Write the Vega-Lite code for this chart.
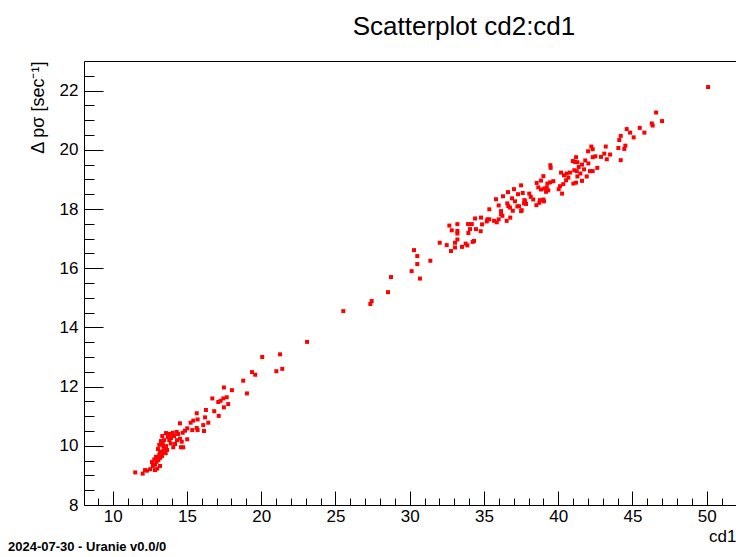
{
  "$schema": "https://vega.github.io/schema/vega-lite/v6.json",
  "width": 652,
  "height": 444,
  "autosize": {"type": "none"},
  "padding": {"left": 84, "top": 61, "right": 0, "bottom": 52},
  "background": "white",
  "config": {
    "view": {"stroke": "black", "strokeWidth": 1},
    "font": "Liberation Sans",
    "axis": {
      "domain": false, "grid": false,
      "labelFont": "Liberation Sans", "labelFontSize": 17, "labelColor": "black",
      "tickColor": "black", "tickWidth": 1,
      "titleFont": "Liberation Sans", "titleFontWeight": "normal", "titleFontSize": 17, "titleColor": "black",
      "labelOverlap": false, "labelFlush": false
    }
  },
  "title": {"text": "Scatterplot cd2:cd1", "fontSize": 26, "font": "Liberation Sans", "fontWeight": "normal", "color": "black", "anchor": "middle", "frame": "group", "dx": 54, "offset": 21},
  "resolve": {"axis": {"x": "independent", "y": "independent"}},
  "datasets": {
    "pts": [
      {"cd1": 11.52, "cd2": 9.10}, {"cd1": 12.02, "cd2": 9.06}, {"cd1": 12.18, "cd2": 9.18}, {"cd1": 12.31, "cd2": 9.16},
      {"cd1": 12.53, "cd2": 9.21}, {"cd1": 13.00, "cd2": 9.23}, {"cd1": 12.85, "cd2": 9.37}, {"cd1": 12.80, "cd2": 9.54},
      {"cd1": 12.92, "cd2": 9.63}, {"cd1": 13.07, "cd2": 9.52}, {"cd1": 13.14, "cd2": 9.69}, {"cd1": 13.30, "cd2": 9.75},
      {"cd1": 13.41, "cd2": 9.83}, {"cd1": 13.19, "cd2": 9.80}, {"cd1": 13.52, "cd2": 9.91}, {"cd1": 13.41, "cd2": 9.97},
      {"cd1": 13.14, "cd2": 10.03}, {"cd1": 13.37, "cd2": 10.06}, {"cd1": 13.57, "cd2": 9.75}, {"cd1": 12.96, "cd2": 9.46},
      {"cd1": 13.34, "cd2": 10.33}, {"cd1": 13.86, "cd2": 10.40}, {"cd1": 13.81, "cd2": 10.19}, {"cd1": 13.91, "cd2": 10.08},
      {"cd1": 14.08, "cd2": 9.95}, {"cd1": 14.04, "cd2": 10.44}, {"cd1": 14.31, "cd2": 10.47}, {"cd1": 14.53, "cd2": 10.24},
      {"cd1": 14.65, "cd2": 10.14}, {"cd1": 14.60, "cd2": 9.95}, {"cd1": 14.75, "cd2": 9.95}, {"cd1": 14.53, "cd2": 10.76},
      {"cd1": 14.71, "cd2": 10.44}, {"cd1": 14.87, "cd2": 10.51}, {"cd1": 15.02, "cd2": 10.22}, {"cd1": 15.02, "cd2": 10.59},
      {"cd1": 15.25, "cd2": 10.78}, {"cd1": 15.43, "cd2": 10.85}, {"cd1": 15.36, "cd2": 10.53}, {"cd1": 15.66, "cd2": 11.10},
      {"cd1": 15.66, "cd2": 10.60}, {"cd1": 15.72, "cd2": 10.53}, {"cd1": 15.72, "cd2": 10.89}, {"cd1": 16.10, "cd2": 10.70},
      {"cd1": 16.15, "cd2": 10.50}, {"cd1": 16.22, "cd2": 10.96}, {"cd1": 16.28, "cd2": 11.21}, {"cd1": 16.44, "cd2": 10.78},
      {"cd1": 16.71, "cd2": 11.60}, {"cd1": 16.84, "cd2": 11.17}, {"cd1": 17.14, "cd2": 11.01}, {"cd1": 17.11, "cd2": 11.48},
      {"cd1": 17.27, "cd2": 11.52}, {"cd1": 17.45, "cd2": 11.60}, {"cd1": 17.68, "cd2": 11.64}, {"cd1": 17.78, "cd2": 11.41},
      {"cd1": 17.49, "cd2": 11.30}, {"cd1": 17.49, "cd2": 11.97}, {"cd1": 18.03, "cd2": 11.88}, {"cd1": 18.79, "cd2": 12.20},
      {"cd1": 19.04, "cd2": 11.77}, {"cd1": 19.38, "cd2": 12.49}, {"cd1": 19.60, "cd2": 12.40}, {"cd1": 20.07, "cd2": 13.00},
      {"cd1": 21.02, "cd2": 12.52}, {"cd1": 21.27, "cd2": 13.09}, {"cd1": 21.42, "cd2": 12.60},
      {"cd1": 12.65, "cd2": 9.45}, {"cd1": 12.71, "cd2": 9.32}, {"cd1": 12.98, "cd2": 9.59}, {"cd1": 13.19, "cd2": 9.59},
      {"cd1": 13.32, "cd2": 9.65}, {"cd1": 13.46, "cd2": 9.79}, {"cd1": 13.59, "cd2": 9.99}, {"cd1": 13.66, "cd2": 9.86},
      {"cd1": 13.05, "cd2": 9.89}, {"cd1": 13.25, "cd2": 10.16}, {"cd1": 13.46, "cd2": 10.19}, {"cd1": 13.72, "cd2": 10.30},
      {"cd1": 13.93, "cd2": 10.26}, {"cd1": 14.13, "cd2": 10.33}, {"cd1": 14.33, "cd2": 10.19}, {"cd1": 13.59, "cd2": 10.43},
      {"cd1": 12.85, "cd2": 9.18}, {"cd1": 13.19, "cd2": 9.32}, {"cd1": 14.20, "cd2": 10.06}, {"cd1": 14.40, "cd2": 10.40},
      {"cd1": 23.09, "cd2": 13.51}, {"cd1": 25.53, "cd2": 14.55}, {"cd1": 27.35, "cd2": 14.79}, {"cd1": 27.44, "cd2": 14.89},
      {"cd1": 28.54, "cd2": 15.19}, {"cd1": 28.74, "cd2": 15.70}, {"cd1": 30.29, "cd2": 16.61}, {"cd1": 30.51, "cd2": 16.41},
      {"cd1": 30.51, "cd2": 16.14}, {"cd1": 30.13, "cd2": 15.90}, {"cd1": 30.69, "cd2": 15.65}, {"cd1": 31.39, "cd2": 16.25},
      {"cd1": 32.02, "cd2": 16.86}, {"cd1": 32.49, "cd2": 16.78}, {"cd1": 32.78, "cd2": 16.58}, {"cd1": 33.05, "cd2": 16.70},
      {"cd1": 33.05, "cd2": 16.86}, {"cd1": 33.21, "cd2": 16.97}, {"cd1": 33.21, "cd2": 17.17}, {"cd1": 33.21, "cd2": 17.26},
      {"cd1": 32.83, "cd2": 17.28}, {"cd1": 32.67, "cd2": 17.44}, {"cd1": 33.21, "cd2": 17.49}, {"cd1": 33.52, "cd2": 16.72},
      {"cd1": 33.77, "cd2": 16.83}, {"cd1": 33.88, "cd2": 16.77}, {"cd1": 34.24, "cd2": 16.89}, {"cd1": 34.33, "cd2": 16.92},
      {"cd1": 33.95, "cd2": 17.19}, {"cd1": 34.06, "cd2": 17.32}, {"cd1": 33.93, "cd2": 17.49}, {"cd1": 34.18, "cd2": 17.49},
      {"cd1": 34.46, "cd2": 17.32}, {"cd1": 34.78, "cd2": 17.25}, {"cd1": 34.87, "cd2": 17.48}, {"cd1": 34.40, "cd2": 17.68},
      {"cd1": 34.80, "cd2": 17.71}, {"cd1": 35.19, "cd2": 17.58}, {"cd1": 35.36, "cd2": 17.65}, {"cd1": 35.23, "cd2": 17.65},
      {"cd1": 35.68, "cd2": 17.60}, {"cd1": 35.86, "cd2": 17.55}, {"cd1": 35.99, "cd2": 17.65}, {"cd1": 35.36, "cd2": 17.99},
      {"cd1": 35.99, "cd2": 18.12}, {"cd1": 36.15, "cd2": 17.93}, {"cd1": 36.15, "cd2": 17.82}, {"cd1": 36.24, "cd2": 17.77},
      {"cd1": 36.53, "cd2": 17.60}, {"cd1": 36.77, "cd2": 17.71}, {"cd1": 36.57, "cd2": 18.19}, {"cd1": 36.64, "cd2": 18.10},
      {"cd1": 36.75, "cd2": 18.05}, {"cd1": 36.94, "cd2": 17.94}, {"cd1": 37.09, "cd2": 18.26}, {"cd1": 37.25, "cd2": 18.09},
      {"cd1": 37.36, "cd2": 18.09}, {"cd1": 37.50, "cd2": 17.93}, {"cd1": 37.70, "cd2": 18.19}, {"cd1": 37.77, "cd2": 18.26},
      {"cd1": 38.53, "cd2": 18.13}, {"cd1": 38.73, "cd2": 18.21}, {"cd1": 39.04, "cd2": 18.26},
      {"cd1": 36.28, "cd2": 18.43}, {"cd1": 36.62, "cd2": 18.57}, {"cd1": 37.02, "cd2": 18.67}, {"cd1": 37.29, "cd2": 18.50},
      {"cd1": 36.89, "cd2": 18.36}, {"cd1": 35.81, "cd2": 18.33},
      {"cd1": 46.59, "cd2": 21.26}, {"cd1": 46.99, "cd2": 20.97}, {"cd1": 46.30, "cd2": 20.89}, {"cd1": 46.36, "cd2": 20.82},
      {"cd1": 45.49, "cd2": 20.74}, {"cd1": 45.80, "cd2": 20.58}, {"cd1": 44.61, "cd2": 20.70}, {"cd1": 44.84, "cd2": 20.58},
      {"cd1": 45.08, "cd2": 20.42}, {"cd1": 44.21, "cd2": 20.47}, {"cd1": 44.11, "cd2": 20.33}, {"cd1": 44.52, "cd2": 20.14},
      {"cd1": 44.45, "cd2": 20.03}, {"cd1": 44.05, "cd2": 20.06}, {"cd1": 44.21, "cd2": 19.65}, {"cd1": 43.20, "cd2": 20.11},
      {"cd1": 43.10, "cd2": 19.87}, {"cd1": 43.49, "cd2": 19.84}, {"cd1": 43.27, "cd2": 19.68}, {"cd1": 42.88, "cd2": 19.76},
      {"cd1": 42.23, "cd2": 20.11}, {"cd1": 42.32, "cd2": 20.02}, {"cd1": 42.01, "cd2": 19.95}, {"cd1": 42.32, "cd2": 19.75},
      {"cd1": 42.50, "cd2": 19.78}, {"cd1": 41.20, "cd2": 19.75}, {"cd1": 40.98, "cd2": 19.62}, {"cd1": 41.13, "cd2": 19.59},
      {"cd1": 41.29, "cd2": 19.58}, {"cd1": 41.82, "cd2": 19.64}, {"cd1": 42.03, "cd2": 19.54}, {"cd1": 41.60, "cd2": 19.50},
      {"cd1": 41.38, "cd2": 19.42}, {"cd1": 41.74, "cd2": 19.34}, {"cd1": 42.14, "cd2": 19.28}, {"cd1": 42.32, "cd2": 19.28},
      {"cd1": 42.63, "cd2": 19.39}, {"cd1": 39.47, "cd2": 19.48}, {"cd1": 39.49, "cd2": 19.39}, {"cd1": 41.08, "cd2": 19.31},
      {"cd1": 41.25, "cd2": 19.28}, {"cd1": 41.49, "cd2": 19.20}, {"cd1": 41.29, "cd2": 19.10}, {"cd1": 41.60, "cd2": 18.95},
      {"cd1": 41.92, "cd2": 19.10}, {"cd1": 40.79, "cd2": 19.23}, {"cd1": 40.57, "cd2": 19.20}, {"cd1": 40.19, "cd2": 19.23},
      {"cd1": 40.39, "cd2": 19.14}, {"cd1": 40.68, "cd2": 19.06}, {"cd1": 40.53, "cd2": 18.97}, {"cd1": 41.02, "cd2": 18.86},
      {"cd1": 41.20, "cd2": 18.89}, {"cd1": 40.34, "cd2": 18.84}, {"cd1": 40.12, "cd2": 18.77}, {"cd1": 40.03, "cd2": 18.67},
      {"cd1": 40.26, "cd2": 18.52}, {"cd1": 39.67, "cd2": 18.94}, {"cd1": 39.45, "cd2": 18.90}, {"cd1": 39.27, "cd2": 18.86},
      {"cd1": 39.00, "cd2": 19.11}, {"cd1": 38.84, "cd2": 18.96}, {"cd1": 38.55, "cd2": 18.88}, {"cd1": 38.66, "cd2": 18.73},
      {"cd1": 38.84, "cd2": 18.66}, {"cd1": 39.06, "cd2": 18.69}, {"cd1": 39.23, "cd2": 18.73}, {"cd1": 39.18, "cd2": 18.58},
      {"cd1": 39.33, "cd2": 18.63}, {"cd1": 39.00, "cd2": 18.32}, {"cd1": 38.77, "cd2": 18.30}, {"cd1": 38.32, "cd2": 18.32},
      {"cd1": 38.05, "cd2": 18.52}, {"cd1": 38.15, "cd2": 18.41}, {"cd1": 37.72, "cd2": 18.30}, {"cd1": 37.61, "cd2": 18.54},
      {"cd1": 37.50, "cd2": 18.80}, {"cd1": 37.83, "cd2": 18.17}, {"cd1": 37.54, "cd2": 17.96},
      {"cd1": 50.09, "cd2": 22.12}
    ],
    "foot": [{"txt": "2024-07-30 - Uranie v0.0/0"}]
  },
  "layer": [
    {
      "data": {"name": "pts"},
      "mark": {"type": "point", "shape": "square", "filled": true, "size": 16, "color": "#ff0000", "opacity": 1, "strokeWidth": 0},
      "encoding": {
        "x": {
          "field": "cd1", "type": "quantitative",
          "scale": {"domain": [8.07, 51.97], "nice": false, "zero": false},
          "axis": {
            "orient": "bottom",
            "values": [10, 15, 20, 25, 30, 35, 40, 45, 50],
            "tickSize": -14,
            "labelPadding": 17,
            "title": "cd1", "titleAnchor": "end", "titlePadding": 4
          }
        },
        "y": {
          "field": "cd2", "type": "quantitative",
          "scale": {"domain": [8, 23], "nice": false, "zero": false},
          "axis": {
            "orient": "left",
            "values": [8, 10, 12, 14, 16, 18, 20, 22],
            "tickSize": -19,
            "labelPadding": 25,
            "title": "Δ pσ [sec⁻¹]", "titleFontSize": 18, "titleAnchor": "end", "titlePadding": 12
          }
        }
      }
    },
    {
      "data": {"name": "foot"},
      "mark": {"type": "text", "align": "left", "baseline": "middle", "fontSize": 13, "fontWeight": "bold", "font": "Liberation Sans", "color": "black", "clip": false},
      "encoding": {
        "x": {
          "datum": 2.95, "type": "quantitative",
          "axis": {"orient": "bottom", "values": [9,11,12,13,14,16,17,18,19,21,22,23,24,26,27,28,29,31,32,33,34,36,37,38,39,41,42,43,44,46,47,48,49,51], "tickSize": -7, "labels": false, "title": null}
        },
        "y": {
          "datum": 6.58, "type": "quantitative",
          "axis": {"orient": "left", "values": [8.5,9,9.5,10.5,11,11.5,12.5,13,13.5,14.5,15,15.5,16.5,17,17.5,18.5,19,19.5,20.5,21,21.5,22.5], "tickSize": -10, "labels": false, "title": null}
        },
        "text": {"field": "txt"}
      }
    }
  ]
}
